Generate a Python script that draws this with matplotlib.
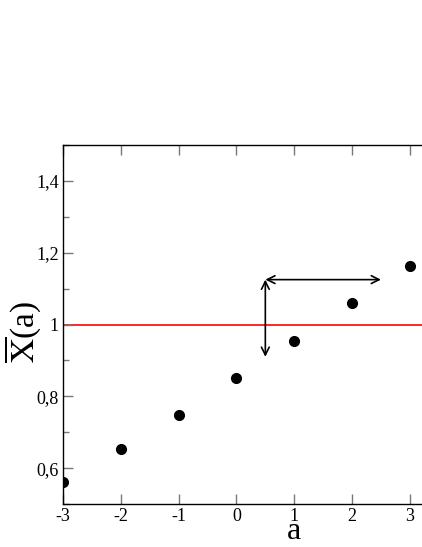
import numpy as np
import matplotlib.pyplot as plt
from matplotlib.ticker import FixedLocator, FuncFormatter

plt.rcParams['font.family'] = ['Liberation Serif', 'DejaVu Serif']
plt.rcParams['mathtext.fontset'] = 'stix'

# data
a_vals = [-3, -2, -1, 0, 1, 2, 3]
x_bar = [0.560, 0.653, 0.748, 0.850, 0.954, 1.059, 1.164]
ref_level = 1.0
y_ticks = [0.6, 0.8, 1.0, 1.2, 1.4]
x_ticks = [-3, -2, -1, 0, 1, 2, 3]

# arrows: corner and the two ends
corner = (0.5, 1.125)
arrow_ends = [(0.5, 0.91), (2.5, 1.125)]

fig = plt.figure(figsize=(4.22, 5.47), dpi=100)
ax = fig.add_axes([63 / 422, 43 / 547, 1 - 63 / 422, 359 / 547])

ax.axhline(ref_level, color='red', lw=1.2, zorder=1)
ax.plot(a_vals, x_bar, 'o', color='black', ms=7, zorder=3)

for end in arrow_ends:
    ax.annotate('', xy=end, xytext=corner,
                arrowprops=dict(arrowstyle='<->', color='black', lw=1.2,
                                shrinkA=0, shrinkB=0, mutation_scale=14))

ax.set_xlim(-3, 3.21)
ax.set_ylim(0.5, 1.5)

ax.xaxis.set_major_locator(FixedLocator(x_ticks))
ax.yaxis.set_major_locator(FixedLocator(y_ticks))
ax.yaxis.set_minor_locator(FixedLocator(np.arange(0.5, 1.51, 0.2)))

def comma_fmt(v, pos):
    s = ('%g' % round(v, 2))
    return s.replace('.', ',')

ax.yaxis.set_major_formatter(FuncFormatter(comma_fmt))
ax.xaxis.set_major_formatter(FuncFormatter(lambda v, p: '%d' % v))

ax.spines['right'].set_visible(False)
for sp in ['left', 'bottom', 'top']:
    ax.spines[sp].set_linewidth(1.0)

ax.tick_params(which='both', direction='in', color='#777777', top=True, right=False)
ax.tick_params(which='major', length=7, width=1, labelsize=13, pad=3)
ax.tick_params(which='minor', length=4, width=1)

ax.set_xlabel('a', fontsize=23)
ax.xaxis.label.set_va('baseline')
ax.xaxis.set_label_coords((294 - 63) / 359, -0.098)
ax.set_ylabel(r'$\overline{\mathrm{X}}$(a)', fontsize=24)
ax.yaxis.set_label_coords(-0.056, 0.48)

fig.savefig('out.png', dpi=100)
